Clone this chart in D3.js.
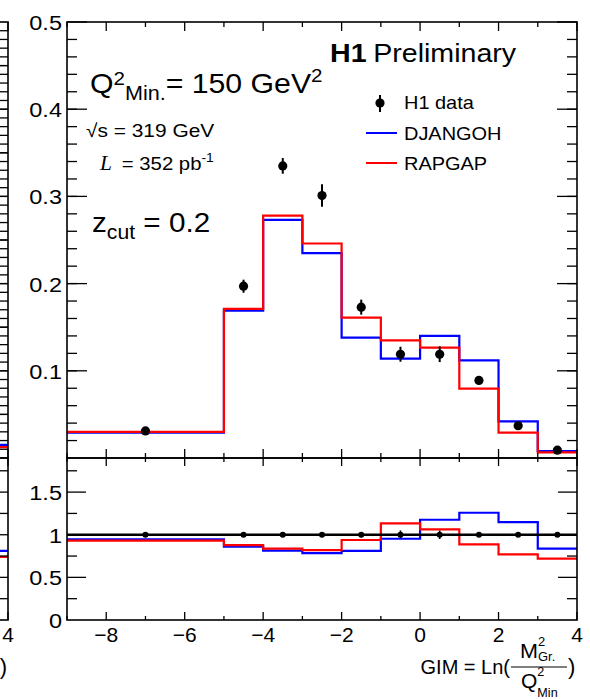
<!DOCTYPE html>
<html>
<head>
<meta charset="utf-8">
<script src="https://cdn.jsdelivr.net/npm/d3@7"></script>
<style>
  body { margin: 0; background: #fff; }
  svg { display: block; }
  text { font-family: 'Liberation Sans', Arial, Helvetica, sans-serif; fill: #000; white-space: pre; }
</style>
</head>
<body>
<svg width="590" height="699"></svg>
<script>
// ---- data ----
const binEdges = [-9, -5, -4, -3, -2, -1, 0, 1, 2, 3, 4];
const dataX   = [-7, -4.5, -3.5, -2.5, -1.5, -0.5, 0.5, 1.5, 2.5, 3.5];
const dataY   = [0.031, 0.197, 0.335, 0.301, 0.173, 0.119, 0.119, 0.089, 0.037, 0.009];
const dataErr = [0.002, 0.0075, 0.009, 0.0128, 0.0086, 0.0086, 0.009, 0.004, 0.003, 0.002];
const djangoh = [0.029, 0.169, 0.273, 0.235, 0.138, 0.114, 0.140, 0.112, 0.042, 0.008];
const rapgap  = [0.030, 0.171, 0.278, 0.246, 0.161, 0.135, 0.1265, 0.0795, 0.029, 0.0065];
// ratio MC / data
const djangohRatio = [0.945, 0.86, 0.813, 0.785, 0.81, 0.953, 1.176, 1.258, 1.149, 0.836];
const rapgapRatio  = [0.93, 0.879, 0.836, 0.82, 0.938, 1.133, 1.063, 0.887, 0.77, 0.719];
const ratioErr     = [0.01, 0.01, 0.01, 0.02, 0.03, 0.05, 0.05, 0.01, 0.01, 0.01];

// neighbouring panel (only its last bin shows at the left edge)
const nbEdges = [3, 4];
const nbDjangoh = [0.030];
const nbRapgap  = [0.025];
const nbDjangohRatio = [0.81];
const nbRapgapRatio  = [0.74];

const xTicksMajor = [-8, -6, -4, -2, 0, 2, 4];
const upperTickLabels = [0.1, 0.2, 0.3, 0.4, 0.5];
const lowerTickLabels = [0, 0.5, 1, 1.5];

// ---- layout ----
const pLeft = 67, pRight = 577, pTop = 22, pMid = 458, pBottom = 620;
const BLUE = "#0000ff", RED = "#ff0000";

const svg = d3.select("svg");

const x = d3.scaleLinear().domain([-9, 4]).range([pLeft, pRight]);
const yUp = d3.scaleLinear().domain([0, 0.5]).range([pMid, pTop]);
const yLo = d3.scaleLinear().domain([0, 1.9]).range([pBottom, pMid]);
const yNb = d3.scaleLinear().domain([0, 1]).range([pMid, pTop]); // neighbour upper scale

// tick helper: draws tick marks of given length at positions
function ticks(g, vals, pos, len, orient) {
  vals.forEach(v => {
    const p = pos(v);
    let l;
    if (orient === "up") l = [p, 0, p, -len];
    else if (orient === "down") l = [p, 0, p, len];
    else if (orient === "right") l = [0, p, len, p];
    else l = [0, p, -len, p];
    g.append("line").attr("x1", l[0]).attr("y1", l[1]).attr("x2", l[2]).attr("y2", l[3])
      .attr("stroke", "#000").attr("stroke-width", 1.3);
  });
}

const xMinor = d3.range(-9, 4.01, 1).filter(v => v % 2 !== 0);

function frame(g, x0, x1, y0, y1) {
  g.append("rect").attr("x", x0).attr("y", y0).attr("width", x1 - x0).attr("height", y1 - y0)
    .attr("fill", "none").attr("stroke", "#000").attr("stroke-width", 1.6);
}

function stepPath(edges, vals, xs, ys) {
  const pts = vals.map((v, i) => [edges[i], v]);
  pts.push([edges[edges.length - 1], vals[vals.length - 1]]);
  return d3.line().x(d => xs(d[0])).y(d => ys(d[1])).curve(d3.curveStepAfter)(pts);
}

// draws the two frames with ticks, for a panel whose x scale is xs
function panelFrame(g, xs, yu) {
  const l = xs.range()[0], r = xs.range()[1];
  frame(g, l, r, pTop, pMid);
  frame(g, l, r, pMid, pBottom);
  // x ticks
  const xt = g.append("g");
  [[pMid, "up", 9, 5], [pTop, "down", 9, 5], [pMid, "down", 8, 4], [pBottom, "up", 8, 4]].forEach(([yy, o, M, m]) => {
    const gg = xt.append("g").attr("transform", `translate(0,${yy})`);
    ticks(gg, xTicksMajor, xs, M, o);
    ticks(gg, xMinor, xs, m, o);
  });
  // upper y ticks
  const gl = g.append("g").attr("transform", `translate(${l},0)`);
  const gr = g.append("g").attr("transform", `translate(${r},0)`);
  const uMaj = yu === yUp ? d3.range(0.1, 0.51, 0.1) : d3.range(0.1, 1.0, 0.1);
  const uMin = yu === yUp ? d3.range(0.02, 0.5, 0.02) : d3.range(0.02, 1.0, 0.02);
  ticks(gl, uMaj, yu, 20, "right"); ticks(gl, uMin, yu, 10, "right");
  ticks(gr, uMaj, yu, 20, "left");  ticks(gr, uMin, yu, 10, "left");
  // lower y ticks
  ticks(gl, [0.5, 1, 1.5], yLo, 19, "right"); ticks(gl, [0.25, 0.75, 1.25, 1.75], yLo, 10, "right");
  ticks(gr, [0.5, 1, 1.5], yLo, 19, "left");  ticks(gr, [0.25, 0.75, 1.25, 1.75], yLo, 10, "left");
}

function hist(g, edges, vals, xs, ys, color) {
  g.append("path").attr("d", stepPath(edges, vals, xs, ys))
    .attr("fill", "none").attr("stroke", color).attr("stroke-width", 2.2);
}

// ---- neighbour panel fragment at the far left ----
const shift = 8 - pRight;
const xNb = d3.scaleLinear().domain([-9, 4]).range([pLeft + shift, pRight + shift]);
const nb = svg.append("g");
hist(nb, nbEdges, nbDjangoh, xNb, yNb, BLUE);
hist(nb, nbEdges, nbRapgap, xNb, yNb, RED);
hist(nb, nbEdges, nbDjangohRatio, xNb, yLo, BLUE);
hist(nb, nbEdges, nbRapgapRatio, xNb, yLo, RED);
panelFrame(nb, xNb, yNb);
nb.append("text").attr("x", xNb(4)).attr("y", 642).attr("text-anchor", "middle")
  .style("font-size", "21px").text("4");
nb.append("text").attr("x", xNb(4) - 1).attr("y", 674).attr("text-anchor", "end")
  .style("font-size", "22px").text(")");
nb.append("line").attr("x1", xNb(4) - 60).attr("x2", xNb(4) - 9).attr("y1", 667).attr("y2", 667)
  .attr("stroke", "#000").attr("stroke-width", 1.2);

// ---- main panel ----
const main = svg.append("g");

// upper histograms
hist(main, binEdges, djangoh, x, yUp, BLUE);
hist(main, binEdges, rapgap, x, yUp, RED);

// data points
const pts = main.append("g");
dataX.forEach((xv, i) => {
  pts.append("line").attr("x1", x(xv)).attr("x2", x(xv))
    .attr("y1", yUp(dataY[i] - dataErr[i])).attr("y2", yUp(dataY[i] + dataErr[i]))
    .attr("stroke", "#000").attr("stroke-width", 2);
  pts.append("circle").attr("cx", x(xv)).attr("cy", yUp(dataY[i])).attr("r", 4.6).attr("fill", "#000");
});

// lower: ratios
hist(main, binEdges, djangohRatio, x, yLo, BLUE);
hist(main, binEdges, rapgapRatio, x, yLo, RED);
main.append("line").attr("x1", pLeft).attr("x2", pRight).attr("y1", yLo(1)).attr("y2", yLo(1))
  .attr("stroke", "#000").attr("stroke-width", 2.4);
dataX.forEach((xv, i) => {
  pts.append("line").attr("x1", x(xv)).attr("x2", x(xv))
    .attr("y1", yLo(1 - ratioErr[i])).attr("y2", yLo(1 + ratioErr[i]))
    .attr("stroke", "#000").attr("stroke-width", 1.6);
  main.append("circle").attr("cx", x(xv)).attr("cy", yLo(1)).attr("r", 3).attr("fill", "#000");
});

panelFrame(main, x, yUp);

// tick labels
upperTickLabels.forEach(v => {
  main.append("text").attr("x", 62).attr("y", yUp(v) + 8).attr("text-anchor", "end")
    .attr("transform", `translate(62,0) scale(1.12,1) translate(-62,0)`)
    .style("font-size", "21px").text(v.toFixed(1));
});
lowerTickLabels.forEach(v => {
  main.append("text").attr("x", 62).attr("y", yLo(v) + 8).attr("text-anchor", "end")
    .attr("transform", `translate(62,0) scale(1.12,1) translate(-62,0)`)
    .style("font-size", "21px").text(String(v));
});
xTicksMajor.forEach(v => {
  main.append("text").attr("x", x(v)).attr("y", 642).attr("text-anchor", "middle")
    .style("font-size", "21px").text(v < 0 ? "\u2212" + Math.abs(v) : String(v));
});

// ---- rich text helper: parts placed one after another, measured ----
function rich(parent, x0, y0, parts, sx) {
  const g = parent.append("g").attr("transform", `translate(${x0},${y0}) scale(${sx || 1},1)`);
  let cx = 0;
  parts.forEach(p => {
    if (p.sup !== undefined || p.sub !== undefined) {
      let w = 0;
      if (p.sup) {
        const t = g.append("text").attr("x", cx).attr("y", p.supDy).style("font-size", (p.supSize || p.small) + "px").text(p.sup);
        w = Math.max(w, t.node().getComputedTextLength());
      }
      if (p.sub) {
        const t = g.append("text").attr("x", cx).attr("y", p.subDy).style("font-size", p.small + "px").text(p.sub);
        w = Math.max(w, t.node().getComputedTextLength());
      }
      cx += w + (p.gap || 0);
    } else {
      const t = g.append("text").attr("x", cx).attr("y", p.dy || 0).style("font-size", p.size + "px")
        .text(p.t);
      if (p.weight) t.style("font-weight", p.weight);
      if (p.family) t.style("font-family", p.family);
      if (p.italic) t.style("font-style", "italic");
      cx += t.node().getComputedTextLength() + (p.gap || 0);
    }
  });
  return g;
}

// annotations
rich(main, 90, 93, [
  { t: "Q", size: 28 },
  { sup: "2", small: 19, supDy: -8 },
  { sub: "Min.", small: 20, subDy: 7 },
  { t: "= 150 GeV", size: 28 },
  { sup: "2", small: 19, supDy: -11 }
], 1.08);

rich(main, 86, 137, [
  { t: "\u221As = 319 GeV", size: 19 }
], 1.1);

rich(main, 100, 170, [
  { t: "L", size: 20, italic: true, family: "'Liberation Serif', 'Times New Roman', serif", gap: 4 },
  { t: " = 352 pb", size: 19 },
  { sup: "-1", small: 13, supDy: -8 }
], 1.07);

rich(main, 92, 232, [
  { t: "z", size: 28 },
  { sub: "cut", small: 20, subDy: 7 },
  { t: " = 0.2", size: 28 }
], 1.06);

rich(main, 330, 62, [
  { t: "H1", size: 26, weight: "bold", gap: 6 },
  { t: "Preliminary", size: 26 }
], 1.1);

// legend
const lg = main.append("g");
lg.append("line").attr("x1", 380).attr("x2", 380).attr("y1", 95).attr("y2", 112)
  .attr("stroke", "#000").attr("stroke-width", 2);
lg.append("circle").attr("cx", 380).attr("cy", 103).attr("r", 4.6).attr("fill", "#000");
lg.append("line").attr("x1", 366).attr("x2", 397).attr("y1", 133).attr("y2", 133)
  .attr("stroke", BLUE).attr("stroke-width", 2);
lg.append("line").attr("x1", 366).attr("x2", 397).attr("y1", 163).attr("y2", 163)
  .attr("stroke", RED).attr("stroke-width", 2);
[["H1 data", 109], ["DJANGOH", 140], ["RAPGAP", 170]].forEach(([t, yy]) => {
  rich(lg, 404, yy, [{ t: t, size: 19 }], 1.05);
});

// x axis title: GIM = Ln(M^2_Gr. / Q^2_Min)
main.append("text").attr("x", 510).attr("y", 674).attr("text-anchor", "end")
  .style("font-size", "20px").text("GIM = Ln(");
main.append("line").attr("x1", 511).attr("x2", 567).attr("y1", 667).attr("y2", 667)
  .attr("stroke", "#000").attr("stroke-width", 1.2);
rich(main, 520, 658, [
  { t: "M", size: 20 },
  { sup: "2", sub: "Gr.", small: 12, supDy: -12, subDy: 3 }
], 1.08);
rich(main, 521, 688, [
  { t: "Q", size: 20 },
  { sup: "2", sub: "Min", small: 12, supDy: -12, subDy: 9 }
], 1.05);
main.append("text").attr("x", 568).attr("y", 674).style("font-size", "22px").text(")");
</script>
</body>
</html>
